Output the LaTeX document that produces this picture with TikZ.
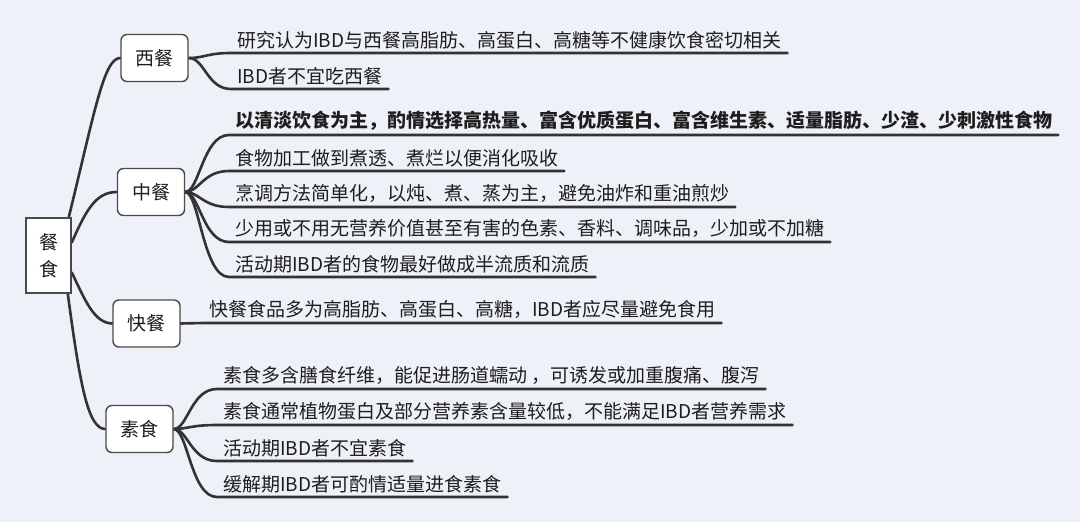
\documentclass[tikz,border=0pt]{standalone}
\usepackage{fontspec}
\setmainfont{Noto Sans CJK SC}
\pgfdeclarelayer{back}
\pgfsetlayers{back,main}
\begin{document}
\begin{tikzpicture}[x=1pt,y=-1pt,
  every node/.style={font=\fontsize{19}{27}\selectfont, text=txt},
  cat/.style={draw=bordr, line width=1.4pt, fill=white, rounded corners=6pt,
              minimum width=67pt, minimum height=47pt, inner sep=0pt},
  rootbox/.style={draw=bordr, line width=1.6pt, fill=white,
              minimum width=45pt, minimum height=75pt, inner sep=0pt, align=center},
  leaf/.style={anchor=south west, inner xsep=6pt, inner ysep=4pt},
  branch/.style={draw=lin, line width=2.6pt, line cap=round},
]
\definecolor{bg}{HTML}{EEF1F8}
\definecolor{lin}{HTML}{333333}
\definecolor{bordr}{HTML}{4A4A4A}
\definecolor{txt}{HTML}{1E1E1E}
\begin{pgfonlayer}{back}
\fill[bg] (0,0) rectangle (1080,522);
\end{pgfonlayer}
\useasboundingbox (0,0) rectangle (1080,522);

% root and category boxes
\node[rootbox] (root) at (48.5,255.5) {餐\\食};
\node[cat] (xican) at (154.5,58) {西餐};
\node[cat] (zhongcan) at (151,192) {中餐};
\node[cat] (kuaican) at (146.5,323.5) {快餐};
\node[cat] (sushi) at (139.5,429) {素食};

% leaves
\node[leaf] (w1) at (231,53) {研究认为IBD与西餐高脂肪、高蛋白、高糖等不健康饮食密切相关};
\node[leaf] (w2) at (231,89) {IBD者不宜吃西餐};
\node[leaf] (z1) at (229,135) {\bfseries 以清淡饮食为主，酌情选择高热量、富含优质蛋白、富含维生素、适量脂肪、少渣、少刺激性食物};
\node[leaf] (z2) at (229,171) {食物加工做到煮透、煮烂以便消化吸收};
\node[leaf] (z3) at (229,207) {烹调方法简单化，以炖、煮、蒸为主，避免油炸和重油煎炒};
\node[leaf] (z4) at (229,242) {少用或不用无营养价值甚至有害的色素、香料、调味品，少加或不加糖};
\node[leaf] (z5) at (229,277) {活动期IBD者的食物最好做成半流质和流质};
\node[leaf] (k1) at (203,323) {快餐食品多为高脂肪、高蛋白、高糖，IBD者应尽量避免食用};
\node[leaf] (s1) at (217,389) {素食多含膳食纤维，能促进肠道蠕动 ，可诱发或加重腹痛、腹泻};
\node[leaf] (s2) at (217,425) {素食通常植物蛋白及部分营养素含量较低，不能满足IBD者营养需求};
\node[leaf] (s3) at (217,461) {活动期IBD者不宜素食};
\node[leaf] (s4) at (217,497) {缓解期IBD者可酌情适量进食素食};

\begin{pgfonlayer}{back}
% connectors from root
\draw[branch] ([xshift=-3pt]root.north east) .. controls (95,110) and (104,58) .. (xican.west);
\draw[branch] ([yshift=13pt]root.east) .. controls (86,210) and (96,192) .. (zhongcan.west);
\draw[branch] ([yshift=-17pt]root.east) .. controls (85,300) and (94,323) .. (kuaican.west);
\draw[branch] ([xshift=-4pt]root.south east) .. controls (80,385) and (88,429) .. (sushi.west);

% connectors to leaves
\foreach \l in {w1,w2}
  \draw[branch] (xican.east) .. controls +(16,0) and +(-24,0) .. (\l.south west) -- (\l.south east);
\foreach \l in {z1,z2,z3,z4,z5}
  \draw[branch] (zhongcan.east) .. controls +(14,0) and +(-26,0) .. (\l.south west) -- (\l.south east);
\draw[branch] (kuaican.east) -- (k1.south west) -- (k1.south east);
\foreach \l in {s1,s2,s3,s4}
  \draw[branch] (sushi.east) .. controls +(14,0) and +(-26,0) .. (\l.south west) -- (\l.south east);
\end{pgfonlayer}
\end{tikzpicture}
\end{document}
